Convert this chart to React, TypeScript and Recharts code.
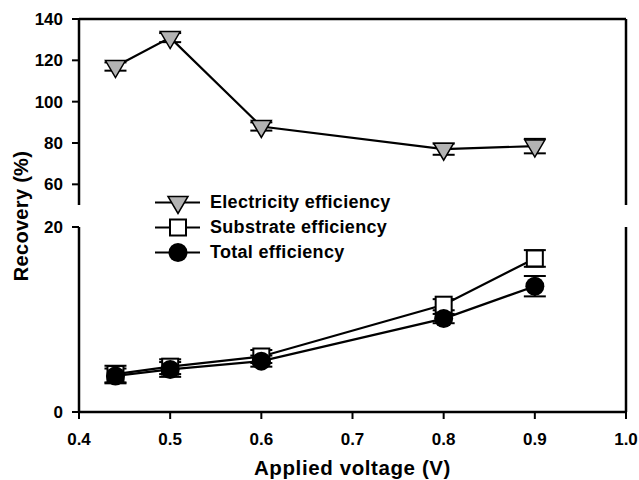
import { LineChart, Line, XAxis, YAxis, ErrorBar, ReferenceLine, Legend, Label } from 'recharts';

const voltages = [0.44, 0.5, 0.6, 0.8, 0.9];
const electricity = [117, 131, 88, 77, 78.5];
const electricityErr = [2, 2.2, 2, 2.7, 3.5];
const substrate = [4.1, 4.9, 6.0, 11.6, 16.6];
const substrateErr = [0.9, 0.8, 0.7, 0.6, 0.9];
const total = [3.9, 4.6, 5.5, 10.1, 13.6];
const totalErr = [0.8, 0.8, 0.6, 0.5, 1.1];

const xTicks = [0.4, 0.5, 0.6, 0.7, 0.8, 0.9, 1.0];
const topTicks = [60, 80, 100, 120, 140];
const bottomTicks = [0, 20];
const legendNames = ['Electricity efficiency', 'Substrate efficiency', 'Total efficiency'];

const topData = voltages.map((v, i) => ({ v, e: electricity[i], eErr: electricityErr[i] }));
const bottomData = voltages.map((v, i) => ({
    v,
    s: substrate[i],
    sErr: substrateErr[i],
    t: total[i],
    tErr: totalErr[i],
}));

const FONT = "'Liberation Sans', Arial, sans-serif";
const tickStyle = { fill: '#000', fontFamily: FONT, fontWeight: 700, fontSize: 17 };
const axisLine = { stroke: '#000', strokeWidth: 2.5 };
const tickLine = { stroke: '#000', strokeWidth: 2 };

const triangle = (cx: number, cy: number) => (
    <polygon
        points={`${cx - 10},${cy - 6} ${cx + 10},${cy - 6} ${cx},${cy + 11}`}
        fill="#b3b3b3"
        stroke="#000"
        strokeWidth={1.5}
    />
);
const square = (cx: number, cy: number) => (
    <rect x={cx - 8} y={cy - 8} width={16} height={16} fill="#fff" stroke="#000" strokeWidth={2} />
);
const circle = (cx: number, cy: number) => <circle cx={cx} cy={cy} r={9.5} fill="#000" />;
const markers = [triangle, square, circle];

// eslint-disable-next-line @typescript-eslint/no-explicit-any
const dotOf = (m: (cx: number, cy: number) => any, k: string) => (p: any) => (
    <g key={`${k}-${p.index}`}>{m(p.cx, p.cy)}</g>
);

function LegendBox() {
    return (
        <div style={{ fontFamily: FONT, fontWeight: 700, fontSize: 18, color: '#000' }}>
            {legendNames.map((name, i) => (
                <div key={name} style={{ display: 'flex', alignItems: 'center', height: 25 }}>
                    <svg width={58} height={25} style={{ overflow: 'visible' }}>
                        <line x1={3} x2={48} y1={12.5} y2={12.5} stroke="#000" strokeWidth={2.2} />
                        {markers[i](26, 12.5)}
                    </svg>
                    <span style={{ letterSpacing: 0.3 }}>{name}</span>
                </div>
            ))}
        </div>
    );
}

export default function App() {
    return (
        <div style={{ position: 'absolute', left: 0, top: 0, width: 639, height: 480, background: '#fff' }}>
            <div style={{ position: 'absolute', left: 0, top: 0 }}>
                <LineChart width={639} height={215} data={topData} margin={{ top: 19, right: 13, bottom: 10, left: 0 }}>
                    <XAxis dataKey="v" type="number" domain={[0.4, 1]} ticks={xTicks} hide />
                    <YAxis
                        domain={[50, 140]}
                        ticks={topTicks}
                        width={79}
                        tick={tickStyle}
                        tickSize={7}
                        tickMargin={9}
                        axisLine={axisLine}
                        tickLine={tickLine}
                    />
                    <ReferenceLine y={140} stroke="#000" strokeWidth={2.5} />
                    <ReferenceLine x={1} stroke="#000" strokeWidth={2.5} />
                    <Line
                        dataKey="e"
                        stroke="#000"
                        strokeWidth={2.2}
                        isAnimationActive={false}
                        dot={dotOf(triangle, 'e')}
                        activeDot={false}
                    >
                        <ErrorBar dataKey="eErr" direction="y" width={11} stroke="#000" strokeWidth={2} />
                    </Line>
                </LineChart>
            </div>
            <div style={{ position: 'absolute', left: 0, top: 0 }}>
                <LineChart width={639} height={480} data={bottomData} margin={{ top: 227, right: 13, bottom: 0, left: 0 }}>
                    <XAxis
                        dataKey="v"
                        type="number"
                        domain={[0.4, 1]}
                        ticks={xTicks}
                        tickFormatter={(v: number) => v.toFixed(1)}
                        height={68}
                        tick={tickStyle}
                        tickSize={7}
                        tickMargin={14}
                        axisLine={axisLine}
                        tickLine={tickLine}
                    >
                        <Label
                            value="Applied voltage (V)"
                            position="insideBottom"
                            offset={5}
                            style={{ fill: '#000', fontFamily: FONT, fontWeight: 700, fontSize: 20.5, letterSpacing: 0.6 }}
                        />
                    </XAxis>
                    <YAxis
                        domain={[0, 20]}
                        ticks={bottomTicks}
                        width={79}
                        tick={tickStyle}
                        tickSize={7}
                        tickMargin={9}
                        axisLine={axisLine}
                        tickLine={tickLine}
                    >
                        <Label
                            content={() => (
                                <text
                                    x={27.5}
                                    y={216}
                                    transform="rotate(-90 27.5 216)"
                                    textAnchor="middle"
                                    fill="#000"
                                    fontFamily={FONT}
                                    fontWeight={700}
                                    fontSize={20}
                                    letterSpacing={0.3}
                                >
                                    Recovery (%)
                                </text>
                            )}
                        />
                    </YAxis>
                    <ReferenceLine x={1} stroke="#000" strokeWidth={2.5} />
                    <Line
                        dataKey="s"
                        stroke="#000"
                        strokeWidth={2.2}
                        isAnimationActive={false}
                        dot={dotOf(square, 's')}
                        activeDot={false}
                    >
                        <ErrorBar dataKey="sErr" direction="y" width={11} stroke="#000" strokeWidth={2} />
                    </Line>
                    <Line
                        dataKey="t"
                        stroke="#000"
                        strokeWidth={2.2}
                        isAnimationActive={false}
                        dot={dotOf(circle, 't')}
                        activeDot={false}
                    >
                        <ErrorBar dataKey="tErr" direction="y" width={11} stroke="#000" strokeWidth={2} />
                    </Line>
                    <Legend
                        layout="vertical"
                        verticalAlign="middle"
                        align="center"
                        content={() => <LegendBox />}
                        wrapperStyle={{ left: 152, top: 190, width: 280 }}
                    />
                </LineChart>
            </div>
        </div>
    );
}
